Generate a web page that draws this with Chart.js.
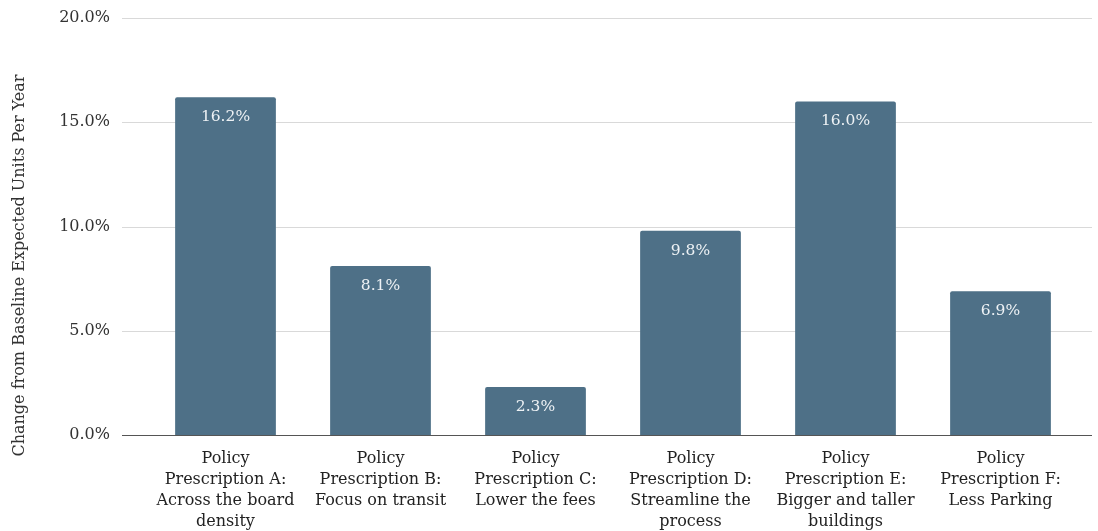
<!DOCTYPE html>
<html>
<head>
<meta charset="utf-8">
<script src="https://cdn.jsdelivr.net/npm/chart.js@4.4.1/dist/chart.umd.min.js"></script>
<style>
  html, body { margin: 0; padding: 0; background: #fff; }
  #wrap { width: 1098px; height: 531px; position: relative; }
</style>
</head>
<body>
<div id="wrap"><canvas id="chart"></canvas></div>
<script>
// categorie e valori
const categories = [
    ['Policy', 'Prescription A:', 'Across the board', 'density'],
    ['Policy', 'Prescription B:', 'Focus on transit'],
    ['Policy', 'Prescription C:', 'Lower the fees'],
    ['Policy', 'Prescription D:', 'Streamline the', 'process'],
    ['Policy', 'Prescription E:', 'Bigger and taller', 'buildings'],
    ['Policy', 'Prescription F:', 'Less Parking']
];
const values = [16.2, 8.1, 2.3, 9.8, 16.0, 6.9];
const yTicks = [0, 5, 10, 15, 20];
const yTitle = 'Change from Baseline Expected Units Per Year';

const serif = "'DejaVu Serif', 'Liberation Serif', serif";

// griglia orizzontale piu' larga dell'area del grafico
const gridPlugin = {
    id: 'wideGrid',
    beforeDatasetsDraw(chart) {
        const ctx = chart.ctx;
        const y = chart.scales.y;
        ctx.save();
        yTicks.forEach(t => {
            const py = Math.round(y.getPixelForValue(t)) + 0.5;
            ctx.strokeStyle = t === 0 ? '#555555' : '#d9d9d9';
            ctx.lineWidth = 1;
            ctx.beginPath();
            ctx.moveTo(122, py);
            ctx.lineTo(1092, py);
            ctx.stroke();
        });
        ctx.restore();
    }
};

// etichette dei valori dentro le barre + titolo asse y
const labelPlugin = {
    id: 'barLabels',
    afterDatasetsDraw(chart) {
        const ctx = chart.ctx;
        const meta = chart.getDatasetMeta(0);
        ctx.save();
        ctx.fillStyle = '#eef2f5';
        ctx.font = '15.5px ' + serif;
        ctx.textAlign = 'center';
        ctx.textBaseline = 'middle';
        meta.data.forEach((bar, i) => {
            ctx.fillText(values[i].toFixed(1) + '%', bar.x, bar.y + 20);
        });
        ctx.translate(20, chart.height / 2);
        ctx.rotate(-Math.PI / 2);
        ctx.fillStyle = '#333333';
        ctx.font = '16px ' + serif;
        ctx.fillText(yTitle, 0, 0);
        ctx.restore();
    }
};

window.onload = () => {
    const ctx = document.getElementById('chart');
    new Chart(ctx.getContext('2d'), {
        type: 'bar',
        data: {
            labels: categories,
            datasets: [{
                data: values,
                backgroundColor: '#4e7087',
                borderRadius: { topLeft: 2, topRight: 2 },
                borderSkipped: 'bottom',
                categoryPercentage: 1,
                barPercentage: 0.65
            }]
        },
        options: {
            responsive: true,
            maintainAspectRatio: false,
            animation: false,
            layout: { padding: { top: 18, right: 20, left: 0, bottom: 0 } },
            plugins: {
                legend: { display: false },
                tooltip: { enabled: false }
            },
            scales: {
                x: {
                    grid: { display: false, drawTicks: false },
                    border: { display: false },
                    ticks: {
                        color: '#222222',
                        font: { family: serif, size: 16, lineHeight: 1.32 },
                        padding: 13,
                        maxRotation: 0,
                        autoSkip: false
                    },
                    afterFit(scale) { scale.height = 96; }
                },
                y: {
                    min: 0,
                    max: 20,
                    grid: { display: false, drawTicks: false },
                    border: { display: false },
                    afterBuildTicks(scale) {
                        scale.ticks = yTicks.map(v => ({ value: v }));
                    },
                    ticks: {
                        color: '#333333',
                        font: { family: serif, size: 16 },
                        padding: 38,
                        callback: v => v.toFixed(1) + '%'
                    },
                    afterFit(scale) {
                        scale.width = 148;
                        scale.paddingTop = 0;
                        scale.paddingBottom = 0;
                    }
                }
            }
        },
        plugins: [gridPlugin, labelPlugin]
    });
};
</script>
</body>
</html>
